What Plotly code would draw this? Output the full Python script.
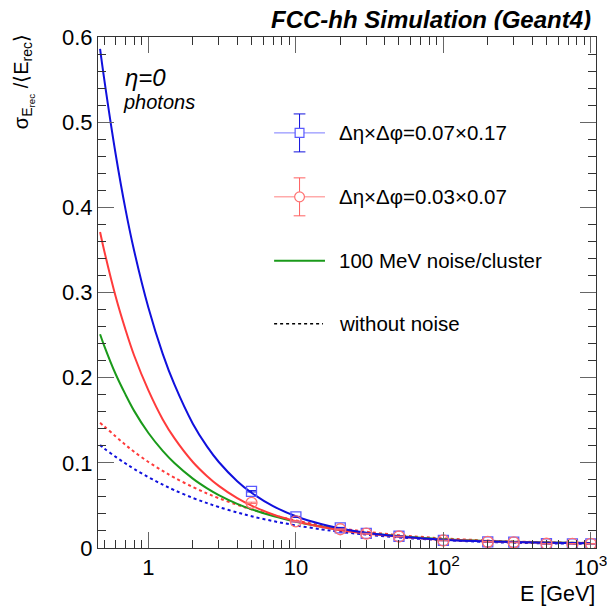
import plotly.graph_objects as go

# ---------------- data ----------------
E_curve = [0.47, 0.5, 0.6, 0.7, 0.8, 1, 1.25, 1.5, 2, 2.5, 3, 4, 5, 7, 10, 15, 20, 30,
           50, 70, 100, 200, 300, 500, 1000]
blue_noise = [0.586, 0.552, 0.462, 0.397, 0.349, 0.282, 0.228, 0.192, 0.146, 0.119, 0.101,
              0.0785, 0.0649, 0.0492, 0.0373, 0.0279, 0.0230, 0.0179, 0.0135, 0.0115,
              0.0098, 0.0077, 0.0069, 0.0062, 0.0056]
red_noise = [0.371, 0.350, 0.295, 0.256, 0.226, 0.185, 0.151, 0.129, 0.101, 0.0843, 0.0729,
             0.0585, 0.0498, 0.0394, 0.0314, 0.0246, 0.0209, 0.0169, 0.0132, 0.0114,
             0.0098, 0.0078, 0.0070, 0.0062, 0.0057]
green_noise = [0.251, 0.238, 0.204, 0.180, 0.161, 0.135, 0.114, 0.0998, 0.0815, 0.0701,
               0.0622, 0.0519, 0.0455, 0.0375, 0.0309, 0.0249, 0.0215, 0.0177, 0.0140,
               0.0120, 0.0104, 0.0082, 0.0073, 0.0065, 0.0058]
red_nonoise = [0.147, 0.143, 0.131, 0.121, 0.113, 0.101, 0.0905, 0.0826, 0.0716, 0.0640,
               0.0585, 0.0507, 0.0454, 0.0385, 0.0323, 0.0266, 0.0231, 0.0191, 0.0151,
               0.0131, 0.0113, 0.0087, 0.0077, 0.0067, 0.0059]
blue_nonoise = [0.121, 0.117, 0.107, 0.0992, 0.0928, 0.0831, 0.0744, 0.0679, 0.0588, 0.0527,
                0.0481, 0.0417, 0.0373, 0.0316, 0.0266, 0.0218, 0.0190, 0.0157, 0.0124,
                0.0107, 0.0092, 0.0071, 0.0062, 0.0055, 0.0048]

E_points = [5, 10, 20, 30, 50, 100, 200, 300, 500, 750, 1000]
blue_points = [0.0666, 0.0365, 0.0237, 0.0172, 0.0138, 0.0090, 0.0073, 0.0068, 0.0050, 0.0049, 0.0049]
red_points = [0.0530, 0.0312, 0.0220, 0.0168, 0.0135, 0.0088, 0.0072, 0.0066, 0.0050, 0.0049, 0.0049]
blue_err = [0.0008, 0.0006, 0.0005, 0.0005, 0.0004, 0.0004, 0.0004, 0.0004, 0.0004, 0.0004, 0.0004]
red_err = [0.0008, 0.0006, 0.0005, 0.0005, 0.0004, 0.0004, 0.0004, 0.0004, 0.0004, 0.0004, 0.0004]

y_ticks = [0, 0.1, 0.2, 0.3, 0.4, 0.5, 0.6]
y_ticklabels = ["0", "0.1", "0.2", "0.3", "0.4", "0.5", "0.6"]
x_ticks = [1, 10, 100, 1000]
x_ticklabels = ["1", "10", "10<sup>2</sup>", "10<sup>3</sup>"]
x_minor = [0.5, 0.6, 0.7, 0.8, 0.9, 2, 3, 4, 5, 6, 7, 8, 9, 20, 30, 40, 50, 60, 70, 80, 90,
           200, 300, 400, 500, 600, 700, 800, 900]
y_minor = [round(0.02 * i, 2) for i in range(31)]

legend_labels = ["Δη×Δφ=0.07×0.17", "Δη×Δφ=0.03×0.07", "100 MeV noise/cluster", "without noise"]

# ---------------- styling ----------------
FONT = "Liberation Sans, Arial, Helvetica, sans-serif"
C_BLUE = "#1010dd"
C_RED = "#ff3b3b"
C_GREEN = "#1a9a1a"
C_BLUE_M = "#5a5aff"
C_RED_M = "#ff7070"

# the page body has an 8px margin: the figure is drawn 8px right / 8px down
OFF = 8
W, H = 615 - OFF, 612 - OFF
# plot frame in window pixels: x 98..607, y 37.5..548.5
FX0, FX1, FY0, FY1 = 98, 607, 37, 548.5
L = FX0 - OFF
R = (W + OFF) - FX1
T = FY0 - OFF
B = (H + OFF) - FY1
PW, PH = FX1 - FX0, FY1 - FY0


def px(x):
    return (x - FX0) / PW


def py(y):
    return (FY1 - y) / PH


fig = go.Figure()

curves = [
    (blue_nonoise, C_BLUE, "dot"),
    (red_nonoise, C_RED, "dot"),
    (green_noise, C_GREEN, "solid"),
    (red_noise, C_RED, "solid"),
    (blue_noise, C_BLUE, "solid"),
]
for vals, col, dash in curves:
    fig.add_trace(go.Scatter(x=E_curve, y=vals, mode="lines", line_shape="spline",
                             line=dict(color=col, width=2, dash=dash), showlegend=False,
                             hoverinfo="skip"))

fig.add_trace(go.Scatter(x=E_points, y=blue_points, mode="markers",
                         marker=dict(symbol="square-open", size=10, color=C_BLUE_M,
                                     line=dict(width=1.3, color=C_BLUE_M)),
                         error_y=dict(type="data", array=blue_err, color=C_BLUE, thickness=1, width=5),
                         showlegend=False))
fig.add_trace(go.Scatter(x=E_points, y=red_points, mode="markers",
                         marker=dict(symbol="circle-open", size=11, color=C_RED_M,
                                     line=dict(width=1.3, color=C_RED_M)),
                         error_y=dict(type="data", array=red_err, color=C_RED_M, thickness=1, width=5),
                         showlegend=False))

# ---------------- hand-made ROOT-style legend ----------------
shapes = []
annotations = []
ent_y = [133, 197, 261, 324]
x0l, x1l, xm = 278, 330, 304


def line(xa, ya, xb, yb, col, w=1, dash="solid"):
    shapes.append(dict(type="line", xref="paper", yref="paper", x0=px(xa), y0=py(ya),
                       x1=px(xb), y1=py(yb), line=dict(color=col, width=w, dash=dash)))


for y, colh, colv in [(ent_y[0], "#7a7aff", C_BLUE), (ent_y[1], "#ff8080", "#ff6060")]:
    line(x0l, y, x1l, y, colh, 1)
    line(xm, y - 19, xm, y + 19, colv, 1)
    line(xm - 6, y - 19, xm + 6, y - 19, colv, 1)
    line(xm - 6, y + 19, xm + 6, y + 19, colv, 1)
shapes.append(dict(type="rect", xref="paper", yref="paper", x0=px(xm - 4.5), x1=px(xm + 4.5),
                   y0=py(ent_y[0] + 4.5), y1=py(ent_y[0] - 4.5), fillcolor="white",
                   line=dict(color=C_BLUE_M, width=1.2)))
shapes.append(dict(type="circle", xref="paper", yref="paper", x0=px(xm - 5), x1=px(xm + 5),
                   y0=py(ent_y[1] + 5), y1=py(ent_y[1] - 5), fillcolor="white",
                   line=dict(color=C_RED_M, width=1.2)))
line(x0l, ent_y[2], x1l, ent_y[2], C_GREEN, 2)
line(x0l, ent_y[3], x1l - 2, ent_y[3], "black", 1.5, "dot")

for y, lab in zip(ent_y, legend_labels):
    annotations.append(dict(x=px(342), y=py(y), xref="paper", yref="paper", text=lab,
                            showarrow=False, xanchor="left", yanchor="middle",
                            font=dict(family=FONT, size=20.5, color="black")))

# ---------------- texts ----------------
annotations += [
    dict(x=px(604), y=py(19), xref="paper", yref="paper", xanchor="right", yanchor="middle",
         height=22, valign="middle",
         text="<b><i>FCC-hh Simulation (Geant4)</i></b>", showarrow=False,
         font=dict(family=FONT, size=24, color="black")),
    dict(x=px(124), y=py(78), xref="paper", yref="paper", xanchor="left", yanchor="middle",
         text="<i>η=0</i>", showarrow=False, font=dict(family=FONT, size=24, color="black")),
    dict(x=px(121), y=py(102), xref="paper", yref="paper", xanchor="left", yanchor="middle",
         text="<i>photons</i>", showarrow=False, font=dict(family=FONT, size=20, color="black")),
    dict(x=px(608), y=py(595), xref="paper", yref="paper", xanchor="right", yanchor="middle",
         text="E [GeV]", showarrow=False, font=dict(family=FONT, size=21.5, color="black")),
    dict(x=px(22), y=py(32), xref="paper", yref="paper", xanchor="center", yanchor="top",
         textangle=-90, text="σ<sub>E<sub>rec</sub></sub> /⟨E<sub>rec</sub>⟩", showarrow=False,
         font=dict(family=FONT, size=20, color="black")),
]

axis_common = dict(showline=True, linecolor="#333", linewidth=1, mirror="allticks",
                   ticks="inside", ticklen=16, tickwidth=1, tickcolor="#666",
                   showgrid=False, zeroline=False, ticklabeloverflow="allow",
                   tickfont=dict(family=FONT, size=22, color="black"))

fig.update_xaxes(type="log", range=[-0.342, 3.035], tickmode="array", tickvals=x_ticks,
                 ticktext=x_ticklabels,
                 minor=dict(ticks="inside", ticklen=8, tickcolor="#333", tickmode="array",
                            tickvals=x_minor, showgrid=False),
                 **axis_common)
fig.update_yaxes(range=[0, 0.6], tickmode="array", tickvals=y_ticks, ticktext=y_ticklabels,
                 ticklabelstandoff=0,
                 minor=dict(ticks="inside", ticklen=8, tickcolor="#333", tickmode="array",
                            tickvals=y_minor, showgrid=False),
                 **axis_common)

fig.update_layout(width=W, height=H, margin=dict(l=L, r=R, t=T, b=B),
                  plot_bgcolor="white", paper_bgcolor="white", showlegend=False,
                  shapes=shapes, annotations=annotations,
                  font=dict(family=FONT, color="black"))

fig.write_html("out.html")
